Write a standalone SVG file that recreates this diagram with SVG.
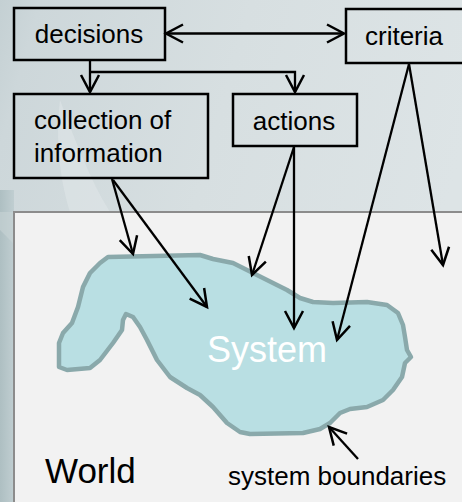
<svg xmlns="http://www.w3.org/2000/svg" width="462" height="502" viewBox="0 0 462 502">
  <defs>
    <linearGradient id="bg" x1="0" y1="0" x2="1" y2="0.3">
      <stop offset="0" stop-color="#c4d0d3"/>
      <stop offset="0.08" stop-color="#cdd7da"/>
      <stop offset="0.5" stop-color="#d7dfe1"/>
      <stop offset="1" stop-color="#dde4e6"/>
    </linearGradient>
    <linearGradient id="strip" x1="0" y1="0" x2="1" y2="0">
      <stop offset="0" stop-color="#aebfc2"/>
      <stop offset="1" stop-color="#c0ced1"/>
    </linearGradient>
    <marker id="arr" markerUnits="userSpaceOnUse" markerWidth="24" markerHeight="24" viewBox="-20 -12 24 24" refX="0" refY="0" orient="auto-start-reverse">
      <path d="M-17,-9 L0,0 L-17,9" fill="none" stroke="#000" stroke-width="2.5"/>
    </marker>
    <style>
      .box { fill: none; stroke: #000; stroke-width: 2.5; }
      .lbl { font-family: "Liberation Sans", Arial, sans-serif; font-size: 26px; fill: #000; }
      .con { fill: none; stroke: #000; stroke-width: 2.3; }
      .arr { marker-end: url(#arr); }
    </style>
  </defs>

  <!-- background -->
  <rect x="0" y="0" width="462" height="502" fill="url(#bg)"/>
  <rect x="0" y="190" width="14" height="312" fill="url(#strip)"/>
  <path d="M0,230 C20,250 40,270 60,300 L60,212 L0,212 Z" fill="#c8d3d6" opacity="0.6"/>
  <path d="M60,100 C75,140 90,180 110,212 L70,212 C60,180 55,140 60,100 Z" fill="#e2e8ea" opacity="0.5"/>

  <!-- world -->
  <g id="world">
    <rect x="14" y="212" width="460" height="295" fill="#f2f2f2" stroke="#8c8c8c" stroke-width="2"/>
    <text x="45" y="483" font-family="Liberation Sans, Arial, sans-serif" font-size="35" fill="#000">World</text>
  </g>

  <!-- system -->
  <g id="system">
    <path d="M108,257 L200,255 L213,259 L233,263 L253,273 L273,283 L287,290 L300,298 L313,302 L333,303 L367,302 L387,305 L398,313 L403,325 L405,337 L407,350 L411,357 L405,363 L402,377 L393,390 L383,400 L367,407 L350,409 L340,413 L330,423 L320,429 L303,433 L250,434 L240,432 L227,423 L213,407 L200,395 L187,388 L170,377 L157,360 L147,340 L140,327 L133,317 L126,314 L123,320 L122,330 L113,343 L100,360 L90,368 L67,370 L59,367 L59,343 L63,333 L72,323 L78,307 L83,287 L90,273 L100,263 Z" fill="#b9dfe3" stroke="#8aa9ab" stroke-width="4.5" stroke-linejoin="round"/>
    <text x="207" y="362" font-family="Liberation Sans, Arial, sans-serif" font-size="36" fill="#ffffff">System</text>
  </g>

  <!-- nodes -->
  <g id="decisions">
    <rect class="box" x="14" y="8" width="151" height="52"/>
    <text class="lbl" x="89" y="43" text-anchor="middle">decisions</text>
  </g>
  <g id="criteria">
    <rect class="box" x="346" y="9" width="130" height="54"/>
    <text class="lbl" x="365" y="45" font-size="29">criteria</text>
  </g>
  <g id="collection">
    <rect class="box" x="14" y="94" width="194" height="84"/>
    <text class="lbl" x="34" y="129">collection of</text>
    <text class="lbl" x="34" y="162">information</text>
  </g>
  <g id="actions">
    <rect class="box" x="233" y="94" width="124" height="52"/>
    <text class="lbl" x="294" y="130" text-anchor="middle">actions</text>
  </g>
  <g id="boundaries">
    <text class="lbl" x="228" y="485">system boundaries</text>
  </g>

  <!-- connectors -->
  <g id="connectors">
    <path class="con" d="M166,33.5 L344,33.5" marker-start="url(#arr)" marker-end="url(#arr)"/>
    <path class="con arr" d="M90,60 L90,92"/>
    <path class="con arr" d="M90,72 L295,72 L295,92"/>
    <path class="con arr" d="M112,179 L133,254"/>
    <path class="con arr" d="M113,180 L207,307"/>
    <path class="con arr" d="M294,147 L252,275"/>
    <path class="con arr" d="M294,147 L294,328"/>
    <path class="con arr" d="M409,64 L337,340"/>
    <path class="con arr" d="M409,64 L443,265"/>
    <path class="con arr" d="M358,459 L329,427"/>
  </g>
</svg>
